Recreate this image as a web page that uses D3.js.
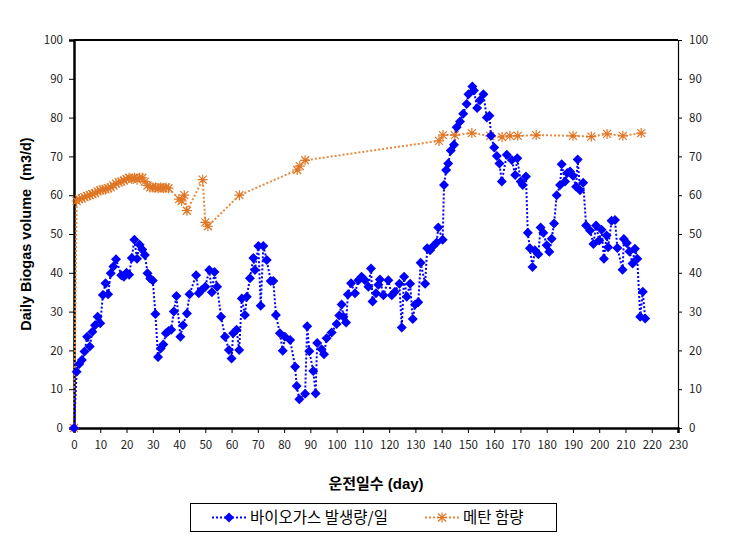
<!DOCTYPE html>
<html>
<head>
<meta charset="utf-8">
<script src="https://cdn.jsdelivr.net/npm/d3@7"></script>
<style>
  body { margin: 0; background: #fff; }
  text { font-family: "Liberation Sans", "Noto Sans CJK KR", sans-serif; }
</style>
</head>
<body>
<div id="chart"></div>
<script>
// 바이오가스 발생량/일 : [day, m3/d]
var biogas = [
  [0,0],[1,14.5],[2,16.5],[3,17.5],[4,19.7],[5,23.5],[6,21],[7,24.8],[8,26.5],[9,28.7],
  [10,27],[11,34.3],[12,37.3],[13,34.5],[14,39.9],[15,41.6],[16,43.5],[18,39.4],[19,39],[20,40],
  [21,39.5],[22,43.8],[23,48.5],[24,43.6],[25,47.2],[26,46],[27,44.6],[28,39.9],[29,38.5],[30,38],
  [31,29.4],[32,18.3],[33,20.5],[34,21.5],[35,24.4],[36,25],[37,25.3],[38,30],[39,34],[40.5,23.5],
  [41.5,26.5],[43,29.5],[44,34.5],[46.5,39.4],[47.5,34.7],[48.5,35.5],[50,36.4],[51.5,40.7],[52.5,35],[53.5,40.2],
  [54.5,36.4],[56,28.7],[57.5,23.5],[59,20.1],[60,17.9],[60.6,24.4],[61.9,25.3],[62.9,20.1],[63.9,33.4],[65.1,29.1],
  [65.8,33.8],[67,38.6],[68.3,43.8],[68.9,40.7],[70.2,46.9],[71.1,31.5],[72.1,46.9],[73.4,43.3],[74.9,37.9],[75.9,37.9],
  [76.9,29.1],[78.4,24.4],[79.5,19.9],[80.3,23.5],[82.3,22.7],[84.2,15.8],[84.8,10.8],[85.8,7.4],[88,8.8],[88.8,26.2],
  [89.6,19.8],[91.1,14.7],[92,8.9],[92.6,21.9],[94.3,20.3],[95.2,19],[96.2,23.1],[98.1,24.6],[100,26.8],[101,29],
  [101.9,31.8],[102.6,28.7],[103.6,27.2],[104.3,34.4],[105.5,37.3],[107,34.7],[108.3,38.1],[109.5,39],[110.8,38.1],[112.1,36.4],
  [113.1,41.1],[113.7,32.6],[115,34.7],[115.9,36.9],[116.5,38.3],[117.8,34.2],[119.7,38.1],[121,34.2],[122.2,35.1],[123.9,37.2],
  [124.8,25.9],[125.7,39],[126.7,33.8],[128,37.2],[129,28.1],[129.9,31.8],[131.1,32.4],[132,42.6],[133.7,37.2],[134.5,46.3],
  [135.6,45.8],[136.8,46.9],[138.1,47.8],[138.7,51.7],[140.4,48.5],[140.9,62.6],[141.7,66.5],[142.5,68.2],[143.5,71.5],[144.7,73],
  [145.7,77.5],[147,79],[148.2,81],[149.5,83.5],[150.2,86],[151.7,88],[152.3,87],[153.5,82.5],[154.6,84.5],[155.9,86],
  [157.2,80],[158.2,80.5],[158.8,75.3],[160,72.3],[161,70.1],[162,68.2],[162.9,63.5],[164.8,70.4],[166.7,69.1],[168,65.2],
  [168.8,69.5],[170.1,63.5],[170.9,62.6],[172.1,64.8],[172.8,50.3],[173.6,46.3],[174.6,41.5],[175.5,45.8],[176.8,44.8],[177.7,51.7],
  [178.7,50.3],[180,47.1],[181,45.4],[181.9,48.8],[182.8,52.7],[183.8,60],[185.1,62.6],[185.7,68],[187,63.5],[187.8,65.7],
  [188.9,66.1],[190,65],[191.2,62.2],[191.8,69.2],[192.7,61.3],[193.9,63.2],[195,52.2],[196.5,50.9],[197.8,47.4],[198.8,52.2],
  [200,48.3],[200.9,51.1],[201.8,43.6],[202.8,49.6],[203.4,46.6],[204.7,53.4],[206,53.6],[206.9,46.4],[208.9,40.8],[209.4,48.7],
  [210.5,47.7],[211.5,45.5],[212.7,42.4],[213.6,46.2],[214.5,43.6],[215.6,28.7],[216.6,35.1],[217.5,28.2]
]

// 메탄 함량 : [day, %]
var methane = [
  [0,0],[1,58.5],[2,59],[3,59.2],[4,59.5],[5,59.8],[6,60],[7,60.3],[8,60.5],[9,61],
  [10,61.2],[11,61.5],[12,61.5],[13,61.8],[14,62],[15,62.5],[16,63],[17,63.3],[18,63.5],[19,63.8],
  [20,64.2],[21,64.5],[22,64.2],[23,64.5],[24,64],[25,64.5],[26,64.5],[27,63.5],[28,62.5],[29,62],
  [30,62],[31,62],[32,61.8],[33,62],[34,61.8],[35,62],[36,61.8],[40,59],[41,58.5],[42,60],
  [43,56],[49,64],[50,53],[51,52],[63,60],[85,66.5],[86,67.5],[88,69],[139,74],[140.5,75.5],
  [145,75.5],[151.5,76],[158.5,75.3],[163,75],[166,75.3],[169,75.3],[176,75.5],[190,75.3],[197,75.1],[203,75.8],
  [209,75.3],[216,76]
]

var xTicks = d3.range(0, 231, 10)
var yTicks = d3.range(0, 101, 10)
var legendLabels = ["바이오가스 발생량/일", "메탄 함량"]
var xTitle = "운전일수 (day)"
var yTitle = "Daily Biogas volume  (m3/d)"

;(function(){
  var W = 745, H = 540
  var left = 74, right = 678, top = 40, bottom = 428
  var BLUE = "#0000ff", ORANGE = "#e8893e", ORANGE_MK = "#e07624"

  var svg = d3.select("#chart").append("svg").attr("width", W).attr("height", H)

  var x = d3.scaleLinear().domain([0, 230]).range([left, right])
  var y = d3.scaleLinear().domain([0, 100]).range([bottom, top])

  // frame: top border
  svg.append("line").attr("x1", left).attr("x2", right).attr("y1", top).attr("y2", top)
    .attr("stroke", "#000").attr("stroke-width", 2)

  var axL = svg.append("g").attr("transform", "translate(" + left + ",0)")
    .call(d3.axisLeft(y).tickValues(yTicks).tickSize(5).tickPadding(6))
  var axR = svg.append("g").attr("transform", "translate(" + right + ",0)")
    .call(d3.axisRight(y).tickValues(yTicks).tickSize(4).tickPadding(7))
  var axB = svg.append("g").attr("transform", "translate(0," + bottom + ")")
    .call(d3.axisBottom(x).tickValues(xTicks).tickSize(5).tickPadding(8))

  ;[axL, axR, axB].forEach(function(g) {
    g.selectAll("text").attr("font-size", 11.5).attr("fill", "#222")
      .style("font-family", "'Noto Sans CJK KR', sans-serif")
    g.selectAll(".tick line").attr("stroke", "#000")
  })
  axL.select(".domain").attr("stroke-width", 2.5)
  axB.select(".domain").attr("stroke-width", 2.5)
  axR.select(".domain").attr("stroke-width", 1.2)

  var line = d3.line().x(function(d) { return x(d[0]) }).y(function(d) { return y(d[1]) })

  svg.append("path").datum(methane).attr("d", line)
    .attr("fill", "none").attr("stroke", ORANGE).attr("stroke-width", 2).attr("stroke-dasharray", "2,2")
  svg.append("path").datum(biogas).attr("d", line)
    .attr("fill", "none").attr("stroke", BLUE).attr("stroke-width", 2).attr("stroke-dasharray", "2,2")

  var diamond = "M0,-5L5,0L0,5L-5,0Z"
  var star = "M0,-5V5M-4,-4L4,4M-4,4L4,-4M-5,0H5"

  svg.append("g").selectAll("path").data(methane).enter().append("path")
    .attr("d", star).attr("transform", function(d) { return "translate(" + x(d[0]) + "," + y(d[1]) + ")" })
    .attr("fill", "none").attr("stroke", ORANGE_MK).attr("stroke-width", 1.2)

  svg.append("g").selectAll("path").data(biogas).enter().append("path")
    .attr("d", diamond).attr("transform", function(d) { return "translate(" + x(d[0]) + "," + y(d[1]) + ")" })
    .attr("fill", BLUE)

  // axis titles
  svg.append("text").attr("x", (left + right) / 2).attr("y", 489).attr("text-anchor", "middle")
    .attr("font-size", 15).attr("font-weight", "bold").text(xTitle)
  svg.append("text").attr("transform", "translate(31," + (top + bottom) / 2 + ") rotate(-90)")
    .attr("text-anchor", "middle").attr("font-size", 14.5).attr("font-weight", "bold")
    .style("white-space", "pre").text(yTitle)

  // legend
  var lg = svg.append("g")
  lg.append("rect").attr("x", 190.5).attr("y", 503.5).attr("width", 366).attr("height", 28)
    .attr("fill", "#fff").attr("stroke", "#000")
  var items = [
    {x: 212, color: BLUE, mk: diamond, fill: BLUE},
    {x: 425, color: ORANGE, mk: star, fill: "none"}
  ]
  items.forEach(function(it, i) {
    lg.append("line").attr("x1", it.x).attr("x2", it.x + 34).attr("y1", 517.5).attr("y2", 517.5)
      .attr("stroke", it.color).attr("stroke-width", 2).attr("stroke-dasharray", "2,2")
    lg.append("path").attr("d", it.mk).attr("transform", "translate(" + (it.x + 17) + ",517.5)")
      .attr("fill", it.fill).attr("stroke", i ? ORANGE_MK : "none").attr("stroke-width", 1.2)
    lg.append("text").attr("x", it.x + 38).attr("y", 523).attr("font-size", 15.5)
      .style("font-family", "'Noto Sans CJK KR', sans-serif").text(legendLabels[i])
  })
})()
</script>
</body>
</html>
